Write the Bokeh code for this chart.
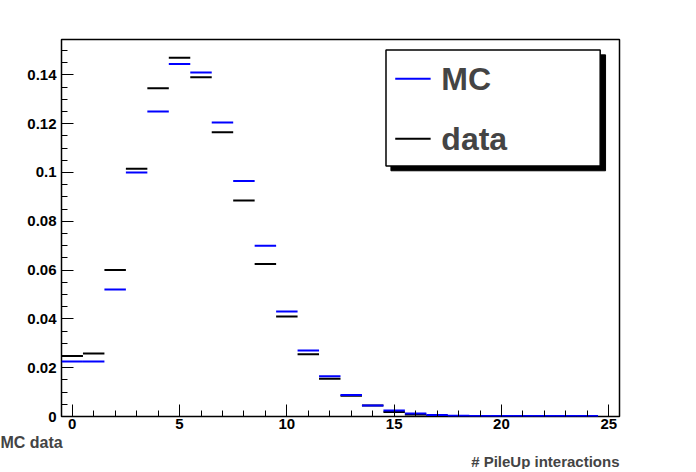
from bokeh.plotting import figure
from bokeh.models import Range1d, FixedTicker, Label, Title
from bokeh.embed import file_html
from bokeh.resources import INLINE
import numpy as np

bins = list(range(25))
mc = [0.0225, 0.0225, 0.052, 0.100, 0.125, 0.1445, 0.141, 0.1205, 0.0965, 0.070,
      0.043, 0.027, 0.0165, 0.0088, 0.0045, 0.0025, 0.0012, 0.0006, 0.0003, 0.0002,
      0.0002, 0.0002, 0.0002, 0.0002, 0.0002]
data = [0.0248, 0.0258, 0.060, 0.1015, 0.1345, 0.147, 0.139, 0.1165, 0.0885, 0.0625,
        0.041, 0.0255, 0.0155, 0.0085, 0.0045, 0.0018, 0.0008, 0.0003, 0.0001, 0.0001,
        0.0001, 0.0001, 0.0001, 0.0001, 0.0001]

p = figure(width=680, height=456, frame_width=558, frame_height=377,
           output_backend="svg", toolbar_location=None,
           x_range=Range1d(-0.5, 25.5), y_range=Range1d(0, 0.1545),
           min_border_left=61, min_border_right=53, min_border_top=39, min_border_bottom=0)
p.grid.visible = False
p.outline_line_color = "black"
p.outline_line_width = 1.5
p.background_fill_color = "white"
p.border_fill_color = "white"

font = "Liberation Sans"
for ax in (p.xaxis[0], p.yaxis[0]):
    ax.major_label_text_font = font
    ax.major_label_text_font_style = "bold"
    ax.major_label_text_font_size = "15px"
    ax.major_label_text_color = "black"
    ax.major_tick_in = 12
    ax.major_tick_out = 0
    ax.minor_tick_in = 6
    ax.minor_tick_out = 0
    ax.axis_line_color = None
p.xaxis.major_label_standoff = 2
p.xaxis.ticker = FixedTicker(ticks=[0, 5, 10, 15, 20, 25], minor_ticks=list(range(0, 26)))
p.yaxis.ticker = FixedTicker(ticks=[0, 0.02, 0.04, 0.06, 0.08, 0.1, 0.12, 0.14],
                             minor_ticks=list(np.arange(0, 0.155, 0.005)))
p.yaxis.major_label_overrides = {0: "0", 0.1: "0.1"}

b = np.array(bins)
p.segment(b - 0.5, data, b + 0.5, data, line_color="black", line_width=2)
p.segment(b - 0.5, mc, b + 0.5, mc, line_color="#0000ff", line_width=2)

# legend box with shadow
p.quad(left=[14.85], right=[24.85], top=[0.1482], bottom=[0.1007], fill_color="black", line_color="black")
p.quad(left=[14.62], right=[24.6], top=[0.1502], bottom=[0.1027], fill_color="white", line_color="black", line_width=1.5)
p.segment([15.05], [0.1384], [16.7], [0.1384], line_color="#0000ff", line_width=2)
p.segment([15.05], [0.1138], [16.7], [0.1138], line_color="black", line_width=2)
for txt, yy in (("MC", 0.1384), ("data", 0.1138)):
    p.add_layout(Label(x=17.2, y=yy, text=txt, text_font=font, text_font_style="bold",
                       text_font_size="32px", text_baseline="middle"))

p.add_layout(Title(text="MC data", align="left", offset=-61, text_font=font,
                   text_font_style="bold", text_font_size="16px", standoff=0), "below")
p.add_layout(Title(text="# PileUp interactions", align="right", text_font=font,
                   text_font_style="bold", text_font_size="15px", standoff=0), "below")

open("out.html", "w").write(file_html(p, INLINE))
